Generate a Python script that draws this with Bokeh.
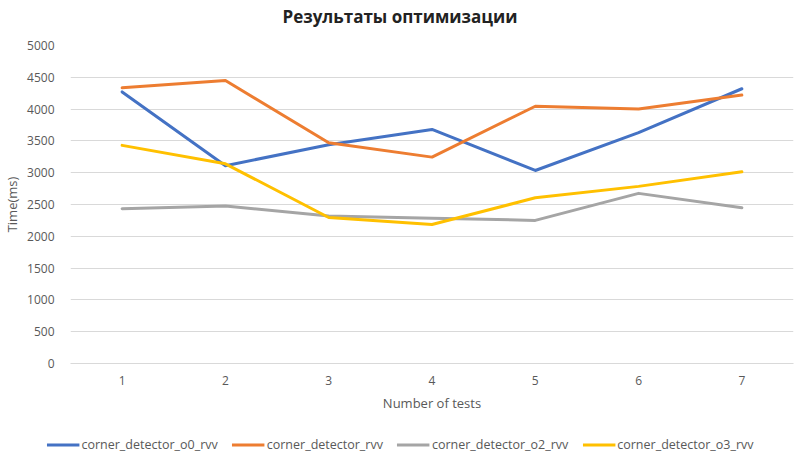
from bokeh.plotting import figure
from bokeh.models import Range1d, SingleIntervalTicker, FixedTicker, Legend, LegendItem, Title
from bokeh.layouts import column, row
from bokeh.embed import file_html
from bokeh.resources import INLINE

tests = [1, 2, 3, 4, 5, 6, 7]
o0_rvv = [4270, 3110, 3440, 3680, 3035, 3630, 4320]
base_rvv = [4335, 4450, 3470, 3245, 4045, 4000, 4220]
o2_rvv = [2435, 2475, 2320, 2285, 2250, 2675, 2450]
o3_rvv = [3430, 3140, 2295, 2185, 2605, 2785, 3015]

names = ["corner_detector_o0_rvv", "corner_detector_rvv", "corner_detector_o2_rvv", "corner_detector_o3_rvv"]
series = [o0_rvv, base_rvv, o2_rvv, o3_rvv]
colors = ["#4472C4", "#ED7D31", "#A5A5A5", "#FFC000"]

FONT = "Open Sans"

p = figure(width=800, height=415, output_backend="svg", toolbar_location=None,
           x_range=Range1d(0.5, 7.5), y_range=Range1d(0, 5000),
           min_border_left=68, min_border_right=7, min_border_top=45, min_border_bottom=52)
p.outline_line_color = None
p.background_fill_color = "white"

p.title.text = "Результаты оптимизации"
p.title.align = "left"
p.title.offset = 212
p.title.vertical_align = "bottom"
p.title.text_font = FONT
p.title.text_font_size = "17px"
p.title.text_font_style = "bold"
p.title.text_color = "#222222"
p.title.standoff = 0

# blank spacer between title and plot area
p.add_layout(Title(text=" ", text_font_size="2px", standoff=14), "above")

# axes
p.xaxis.ticker = FixedTicker(ticks=tests)
p.xaxis.axis_line_color = "#d9d9d9"
p.xaxis.major_tick_line_color = None
p.xaxis.minor_tick_line_color = None
p.xaxis.major_label_text_font = FONT
p.xaxis.major_label_text_font_size = "12px"
p.xaxis.major_label_text_color = "#595959"
p.xaxis.major_label_standoff = 6
p.xaxis.axis_label = "Number of tests"
p.xaxis.axis_label_text_font = FONT
p.xaxis.axis_label_text_font_size = "13px"
p.xaxis.axis_label_text_font_style = "normal"
p.xaxis.axis_label_text_color = "#595959"
p.xaxis.axis_label_standoff = 6

p.yaxis.ticker = SingleIntervalTicker(interval=500)
p.yaxis.axis_line_color = None
p.yaxis.major_tick_line_color = None
p.yaxis.minor_tick_line_color = None
p.yaxis.major_label_text_font = FONT
p.yaxis.major_label_text_font_size = "12px"
p.yaxis.major_label_text_color = "#595959"
p.yaxis.major_label_standoff = 10
p.yaxis.axis_label = "Time(ms)"
p.yaxis.axis_label_text_font = FONT
p.yaxis.axis_label_text_font_size = "13px"
p.yaxis.axis_label_text_font_style = "normal"
p.yaxis.axis_label_text_color = "#595959"
p.yaxis.axis_label_standoff = 3

p.xgrid.grid_line_color = None
p.ygrid.grid_line_color = "#d9d9d9"
p.ygrid.grid_line_width = 1

for vals, col in zip(series, colors):
    p.line(tests, vals, line_color=col, line_width=3, line_join="round", line_cap="round")

# legend strip (its lines lie outside its visible range; only the legend shows)
lg = figure(width=800, height=44, output_backend="svg", toolbar_location=None,
            x_range=Range1d(100, 101), y_range=Range1d(0, 1),
            x_axis_type=None, y_axis_type=None,
            min_border_left=0, min_border_right=0, min_border_top=14, min_border_bottom=0)
lg.grid.visible = False
lg.outline_line_color = None
items = []
for name, vals, col in zip(names, series, colors):
    r = lg.line(tests, vals, line_color=col, line_width=3)
    items.append(LegendItem(label=name, renderers=[r]))

legend = Legend(items=items, orientation="horizontal", location="center",
                glyph_width=33, glyph_height=10, label_standoff=2, spacing=14,
                label_text_font=FONT, label_text_font_size="12.5px", label_text_color="#595959",
                border_line_color=None, background_fill_alpha=0, padding=4, margin=0)
lg.add_layout(legend, "center")

layout = column(p, row(lg), spacing=0)
open("out.html", "w").write(file_html(layout, INLINE))
